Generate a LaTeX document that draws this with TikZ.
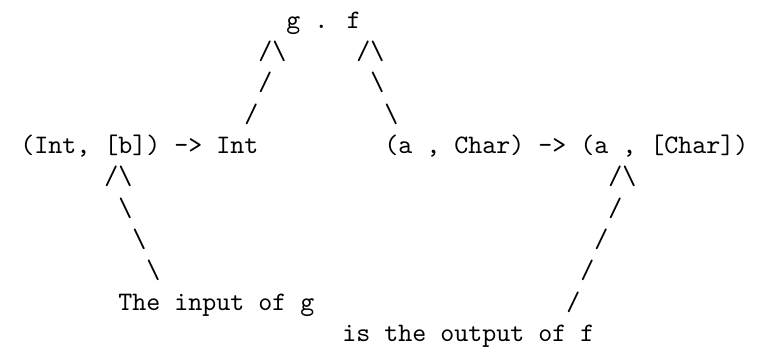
\documentclass[tikz,border=0pt]{standalone}
\usepackage{fontspec}
\usepackage{tikz}
\usetikzlibrary{positioning}
\newcommand{\bsl}{\textbackslash}
\tikzset{
x=5.25pt, y=-11.76pt,
tt/.style={font=\ttfamily, inner sep=0pt, anchor=base west},
}

\begin{document}
\begin{tikzpicture}
	\useasboundingbox (-7.4pt,10.5pt) rectangle (277.6pt,-120.75pt);

	\node[tt] (comp) at (19,0) {g . f};
	\node[tt] (gtype) at (0,4) {(Int, [b]) -> Int};
	\node[tt] (ftype) at (26,4) {(a , Char) -> (a , [Char])};
	\node[tt] (gin) at (7,9) {The input of g};
	\node[tt] (fout) at (23,10) {is the output of f};

	% the slashes
	\foreach \c/\r/\s [count=\i] in {17/1/{/\bsl}, 24/1/{/\bsl},
		17/2/{/}, 25/2/{\bsl}, 16/3/{/}, 26/3/{\bsl},
		6/5/{/\bsl}, 42/5/{/\bsl},
		7/6/{\bsl}, 8/7/{\bsl}, 9/8/{\bsl},
		42/6/{/}, 41/7/{/}, 40/8/{/}, 39/9/{/}}
		\node[tt] (sl\i) at (\c,\r) {\s};
\end{tikzpicture}
\end{document}
